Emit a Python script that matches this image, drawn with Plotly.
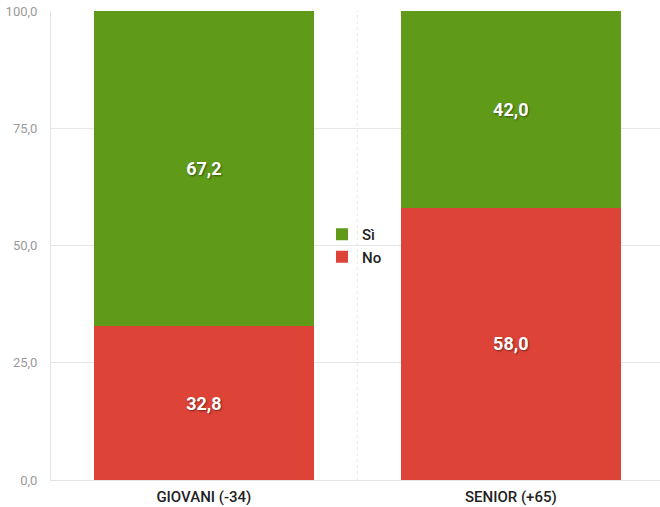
import plotly.graph_objects as go

categories = ["GIOVANI (-34)", "SENIOR (+65)"]
no_values = [32.8, 58.0]
si_values = [67.2, 42.0]
y_ticks = [0, 25, 50, 75, 100]

label_font = dict(color="white", size=18, family="Roboto", weight="bold",
                  shadow="1px 1px 2px rgba(0,0,0,0.45)")

fig = go.Figure()
fig.add_trace(go.Bar(
    x=categories, y=no_values, name="No",
    marker=dict(color="#dd4337", line=dict(width=0)),
    texttemplate="%{y:.1f}", textposition="inside", insidetextanchor="middle",
    textfont=label_font, width=0.717,
))
fig.add_trace(go.Bar(
    x=categories, y=si_values, name="Sì",
    marker=dict(color="#5f9b19", line=dict(width=0)),
    texttemplate="%{y:.1f}", textposition="inside", insidetextanchor="middle",
    textfont=label_font, width=0.717,
))

fig.add_shape(type="line", xref="x", yref="paper", x0=0.5, x1=0.5, y0=0, y1=1,
              line=dict(color="#e6e6e6", width=1, dash="dot"), layer="below")

fig.update_layout(
    barmode="stack",
    separators=",.",
    width=660, height=507,
    margin=dict(l=51, r=0, t=11, b=27, autoexpand=False),
    paper_bgcolor="white", plot_bgcolor="white",
    font=dict(family="Roboto", color="#222"),
    showlegend=True,
    legend=dict(x=0.445, y=0.5, xanchor="left", yanchor="middle",
                traceorder="reversed", font=dict(size=15, color="#222", weight=500),
                bgcolor="rgba(0,0,0,0)", itemwidth=30, tracegroupgap=0),
    xaxis=dict(range=[-0.498, 1.486], showgrid=False, showline=True, linecolor="#e3e3e3",
               linewidth=1, ticks="", automargin=False, ticklabelstandoff=3,
               tickfont=dict(size=15, color="#222", family="Roboto", weight=500),
               zeroline=False),
    yaxis=dict(range=[0, 100], tickvals=y_ticks, tickformat=".1f",
               showgrid=True, gridcolor="#e6e6e6", gridwidth=1, automargin=False,
               showline=True, linecolor="#e3e3e3", linewidth=1, zeroline=False,
               ticks="", ticklabelstandoff=10, ticklabeloverflow="allow",
               tickfont=dict(size=13, color="#9a9a9a", family="Roboto")),
)

fig.write_html(
    "out.html",
    config={"displayModeBar": False},
    post_script="document.body.style.margin='0';document.body.style.overflow='hidden';",
)
